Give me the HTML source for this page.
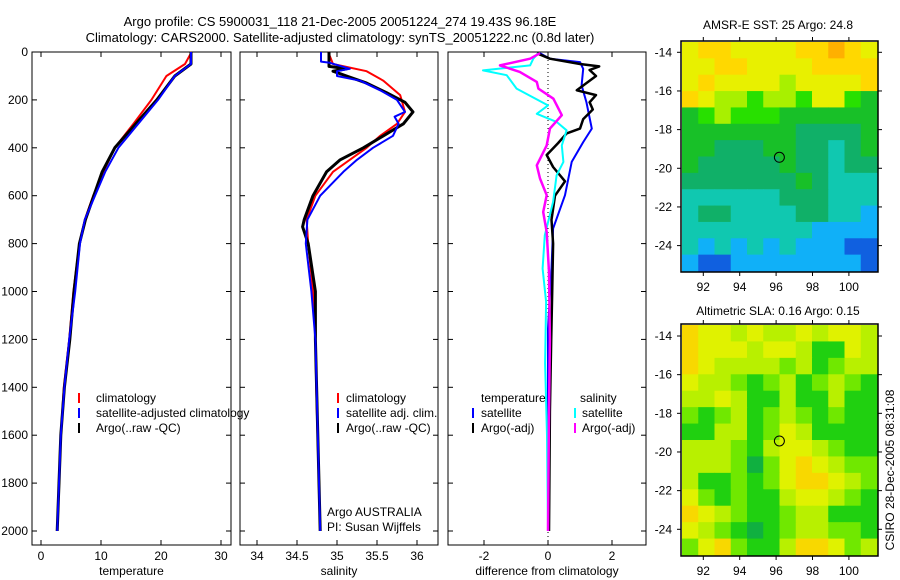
<!DOCTYPE html>
<html><head><meta charset="utf-8"><style>
html,body{margin:0;padding:0;background:#fff;}
svg{display:block;font-family:"Liberation Sans",sans-serif;}
</style></head><body>
<svg id="fig" width="900" height="580" viewBox="0 0 900 580" xmlns="http://www.w3.org/2000/svg">
<rect width="900" height="580" fill="#fff"/>
<text x="340" y="26" text-anchor="middle" font-size="13">Argo profile: CS 5900031_118 21-Dec-2005 20051224_274 19.43S 96.18E</text>
<text x="340" y="42" text-anchor="middle" font-size="13">Climatology: CARS2000. Satellite-adjusted climatology: synTS_20051222.nc (0.8d later)</text>
<text transform="translate(894,470) rotate(-90)" text-anchor="middle" font-size="12">CSIRO 28-Dec-2005 08:31:08</text>
<g id="plots"></g>
</svg>
<script>
// ---------- data ----------
const tDepth=[0,50,100,200,300,400,500,600,700,800,1000,1200,1400,1600,1800,2000];
const tClim=[25.1,24.0,20.9,18.4,15.4,12.3,10.4,8.7,7.3,6.4,5.4,4.7,3.8,3.3,3.0,2.7];
const tSat=[25.0,25.0,22.3,19.5,16.2,12.9,10.7,9.0,7.3,6.5,5.7,4.7,3.9,3.3,3.0,2.7];
const tArgo=[25.0,25.0,22.3,19.3,15.8,12.3,10.2,8.8,7.4,6.4,5.5,4.8,3.9,3.3,3.0,2.7];

const sClimDepth=[0,50,80,120,180,250,300,350,400,500,600,700,800,1000,1200,1400,2000];
const sClim=[34.89,34.95,35.37,35.58,35.79,35.85,35.75,35.54,35.37,34.95,34.73,34.62,34.64,34.70,34.73,34.74,34.79];
const sSatDepth=[0,40,45,70,80,100,120,160,200,250,270,300,350,400,450,500,600,700,800,1000,1200,2000];
const sSat=[34.80,34.80,34.91,35.16,35.00,35.00,35.29,35.54,35.75,35.85,35.72,35.77,35.70,35.45,35.25,35.08,34.79,34.63,34.61,34.68,34.73,34.79];
const sArgoDepth=[0,60,70,80,100,130,170,210,250,300,350,400,450,500,600,700,730,800,1000,1200,2000];
const sArgo=[34.90,34.90,35.12,34.95,35.12,35.37,35.62,35.85,35.95,35.83,35.58,35.33,35.04,34.87,34.70,34.59,34.57,34.64,34.73,34.73,34.79];

const dtSatDepth=[5,28,42,70,139,209,320,376,459,598,737,904,1155,1500,2000];
const dtSat=[-0.25,0.06,1.0,1.1,1.05,1.2,1.37,1.1,0.74,0.53,0.16,0.11,0.0,0.0,0.0];
const dtArgoDepth=[5,28,50,60,75,100,130,160,180,210,240,280,320,340,380,430,480,540,600,700,800,1000,1200,1500,2000];
const dtArgo=[-0.35,0.06,1.0,1.6,1.3,1.5,1.2,0.9,1.5,1.3,1.4,1.1,1.0,0.58,0.32,-0.04,0.16,0.53,0.22,0.11,0.16,0.13,0.1,0.06,0.03];
const dsSatDepth=[5,28,56,77,97,153,223,258,292,327,390,459,515,626,765,904,1043,1300,1600,2000];
const dsSat=[-0.3,-0.46,-0.56,-2.03,-1.29,-0.98,0.0,-0.35,0.27,0.58,0.43,0.48,0.27,0.16,-0.1,-0.17,-0.06,-0.09,-0.03,0.0];
const dsArgoDepth=[5,28,56,83,125,153,195,264,320,390,473,528,598,668,752,919,1200,1500,2000];
const dsArgo=[-0.25,-0.56,-1.5,-0.88,-0.35,-0.3,0.17,0.43,0.06,-0.04,-0.35,-0.25,-0.04,-0.15,-0.04,0.03,0.06,0.03,0.0];

const depthTicks=[0,200,400,600,800,1000,1200,1400,1600,1800,2000];
const tempTicks=[0,10,20,30];
const salTicks=[34,34.5,35,35.5,36];
const salTickLabels=["34","34.5","35","35.5","36"];
const diffTicks=[-2,0,2];

const lonTicks=[92,94,96,98,100];
const latTicks=[14,16,18,20,22,24];
const argoLon=96.18, argoLat=19.43;
const sstRows=[
"788777788987","778877778888","787777677778","876656657754",
"456555444444","444444433334","443334433234","433333433233",
"333333343222","222222333222","233222233221","222222221111",
"212121211100","100111111110"];
const slaRows=[
"766565565665","766656653365","765555453455","655434534543",
"556533533533","434534543433","335534653333","555435665433",
"555424676544","533434677654","643433566543","765433455333",
"654323455443","467433577645"];
const sstColors=["#1060e0","#10b0f8","#10c8b0","#10b068","#18c028","#28e000","#a8f000","#e8f000","#ffd800","#ffb000"];
const slaColors=["#10a050","#10a050","#10b040","#20d010","#70e800","#b8f000","#e0f200","#f8d800","#ffb000"];

// ---------- drawing ----------
const NS="http://www.w3.org/2000/svg";
const G=document.getElementById('plots');
function mk(tag,attrs,parent){const e=document.createElementNS(NS,tag);for(const k in attrs)e.setAttribute(k,attrs[k]);(parent||G).appendChild(e);return e;}
const top0=52,bot0=545;
function sy(d){return 52+d*0.2395;}

function panel(name,x0,x1,ax,tks,tkl,title,showDepth){
  const g=mk('g',{});
  
  
  const r=mk('rect',{x:x0,y:top0,width:x1-x0,height:bot0-top0,fill:'none',stroke:'#000','stroke-width':1},g);
  
  
  tks.forEach((v,i)=>{const x=ax(v);
    mk('line',{x1:x,x2:x,y1:bot0,y2:bot0-5,stroke:'#000'},g);
    mk('line',{x1:x,x2:x,y1:top0,y2:top0+5,stroke:'#000'},g);
    const t=mk('text',{x:x,y:560,'text-anchor':'middle','font-size':12},g);t.textContent=tkl[i];
    
    
  });
  depthTicks.forEach(d=>{const y=sy(d);
    mk('line',{x1:x0,x2:x0+5,y1:y,y2:y,stroke:'#000'},g);
    mk('line',{x1:x1,x2:x1-5,y1:y,y2:y,stroke:'#000'},g);
    if(showDepth){const t=mk('text',{x:28,y:y+4,'text-anchor':'end','font-size':12},g);t.textContent=d;
      
      }
  });
  const tt=mk('text',{x:(x0+x1)/2,y:575,'text-anchor':'middle','font-size':12},g);tt.textContent=title;
  
  
  return g;
}
function line(depths,vals,ax,color,w,name){
  const pts=depths.map((d,i)=>ax(vals[i]).toFixed(1)+','+sy(d).toFixed(1)).join(' ');
  const p=mk('polyline',{points:pts,fill:'none',stroke:color,'stroke-width':w,'stroke-linejoin':'round'});
  
  
}
function legend(x,y,color,label,name,tx){
  const l=mk('line',{x1:x,x2:x,y1:y-9,y2:y+1,stroke:color,'stroke-width':2});
  
  
  const t=mk('text',{x:tx,y:y,'font-size':12});t.textContent=label;
  
  
}
const axT=v=>41+6*v, axS=v=>337+80*(v-35), axD=v=>548+32*v;
panel('temperature-panel',32,231,axT,tempTicks,tempTicks.map(String),'temperature',true);
panel('salinity-panel',240,438,axS,salTicks,salTickLabels,'salinity',false);
panel('difference-panel',448,646,axD,diffTicks,diffTicks.map(String),'difference from climatology',false);

line(tDepth,tClim,axT,'#ff0000',2,'temp-climatology-line');
line(tDepth,tArgo,axT,'#000',3,'temp-argo-line');
line(tDepth,tSat,axT,'#0000ff',2,'temp-satellite-line');
line(sClimDepth,sClim,axS,'#ff0000',2,'sal-climatology-line');
line(sArgoDepth,sArgo,axS,'#000',3,'sal-argo-line');
line(sSatDepth,sSat,axS,'#0000ff',2,'sal-satellite-line');
const z=mk('line',{x1:548,x2:548,y1:top0,y2:bot0,stroke:'#000','stroke-dasharray':'1,3'});


line(dtSatDepth,dtSat,axD,'#0000ff',2,'diff-temp-satellite-line');
line(dtArgoDepth,dtArgo,axD,'#000',2.5,'diff-temp-argo-line');
line(dsSatDepth,dsSat,axD,'#00ffff',2,'diff-sal-satellite-line');
line(dsArgoDepth,dsArgo,axD,'#ff00ff',2.5,'diff-sal-argo-line');

legend(79,402,'#ff0000','climatology','legend-climatology',96);
legend(79,417,'#0000ff','satellite-adjusted climatology','legend-satellite-adjusted',96);
legend(79,432,'#000','Argo(..raw -QC)','legend-argo',96);
legend(338,402,'#ff0000','climatology','legend2-climatology',346);
legend(338,417,'#0000ff','satellite adj. clim.','legend2-satellite',346);
legend(338,432,'#000','Argo(..raw -QC)','legend2-argo',346);
let t=mk('text',{x:481,y:402,'font-size':12});t.textContent='temperature';


t=mk('text',{x:580,y:402,'font-size':12});t.textContent='salinity';


legend(473,417,'#0000ff','satellite','legend3-temp-satellite',481);
legend(473,432,'#000','Argo(-adj)','legend3-temp-argo',481);
legend(575,417,'#00ffff','satellite','legend3-sal-satellite',582);
legend(575,432,'#ff00ff','Argo(-adj)','legend3-sal-argo',582);
t=mk('text',{x:327,y:516,'font-size':12});t.textContent='Argo AUSTRALIA';


t=mk('text',{x:327,y:531,'font-size':12});t.textContent='PI: Susan Wijffels';



// ---------- maps ----------
function map(name,x0,x1,y0,y1,lat14,rows,colors,title,titleY){
  const g=mk('g',{});
  
  
  const lx=lon=>703.3+(lon-92)*18.2;
  const ly=lat=>lat14+(lat-14)*19.33;
  const nr=rows.length,nc=rows[0].length;
  const cw=(x1-x0)/nc,ch=(y1-y0)/nr;
  rows.forEach((row,r)=>{for(let c=0;c<nc;c++){
    const cell=mk('rect',{x:(x0+c*cw).toFixed(2),y:(y0+r*ch).toFixed(2),width:(cw+0.6).toFixed(2),height:(ch+0.6).toFixed(2),fill:colors[+row[c]]},g);
    
    
  }});
  const fr=mk('rect',{x:x0-1,y:y0-1,width:x1-x0+2,height:y1-y0+2,fill:'none',stroke:'#000','stroke-width':1.5},g);
  
  
  lonTicks.forEach(v=>{const x=lx(v);
    mk('line',{x1:x,x2:x,y1:y1+1,y2:y1+5,stroke:'#000'},g);
    mk('line',{x1:x,x2:x,y1:y0-1,y2:y0-5,stroke:'#000'},g);
    const tl=mk('text',{x:x,y:y1+20,'text-anchor':'middle','font-size':12},g);tl.textContent=v;
    
    });
  latTicks.forEach(v=>{const y=ly(v);
    mk('line',{x1:x0-1,x2:x0-5,y1:y,y2:y,stroke:'#000'},g);
    mk('line',{x1:x1+1,x2:x1+5,y1:y,y2:y,stroke:'#000'},g);
    const tl=mk('text',{x:672,y:y+4,'text-anchor':'end','font-size':12},g);tl.textContent='-'+v;
    
    });
  const ci=mk('circle',{cx:lx(argoLon),cy:ly(argoLat),r:5,fill:'none',stroke:'#000','stroke-width':1},g);
  
  
  const tt=mk('text',{x:778,y:titleY,'text-anchor':'middle','font-size':12},g);tt.textContent=title;
  
  
}
map('sst-map',682,877,42,271,52.3,sstRows,sstColors,'AMSR-E SST: 25 Argo: 24.8',29);
map('sla-map',682,877,325,555,336,slaRows,slaColors,'Altimetric SLA: 0.16 Argo: 0.15',315);
</script>
</body></html>
